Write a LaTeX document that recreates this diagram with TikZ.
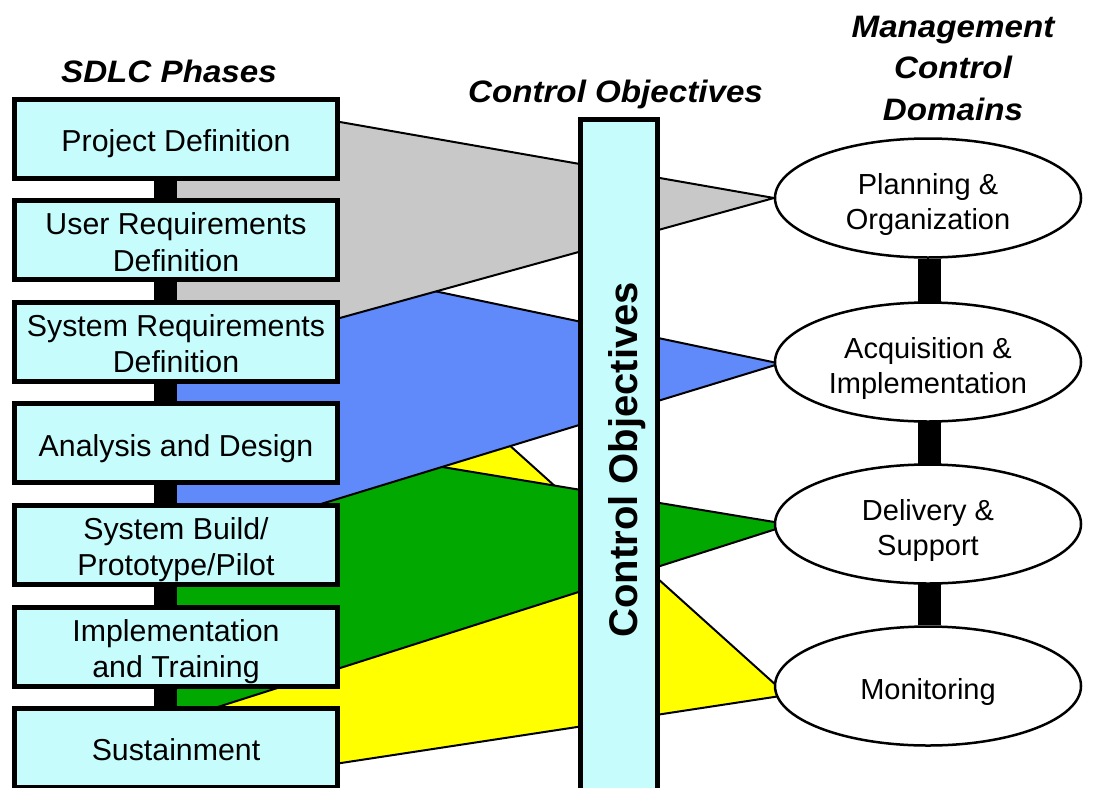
\documentclass[tikz,border=0pt]{standalone}
\usepackage{fontspec}
\setmainfont{Liberation Sans}
\usetikzlibrary{shapes.geometric}
\definecolor{boxcyan}{RGB}{198,252,252}
\definecolor{polygray}{RGB}{200,200,200}
\definecolor{polyblue}{RGB}{96,138,250}
\definecolor{polygreen}{RGB}{0,168,0}
\definecolor{polyyellow}{RGB}{255,255,0}
\pgfdeclarelayer{bg}
\pgfsetlayers{bg,main}
\newcommand{\boxlines}[2]{\raisebox{#1}[\height][\depth]{\begin{tabular}{@{}c@{}}#2\end{tabular}}}
\begin{document}
\begin{tikzpicture}[x=1pt,y=-1pt,
  phasebox/.style={draw, line width=5pt, fill=boxcyan, minimum width=323pt, minimum height=79pt, inner sep=0pt, font=\fontsize{30.3}{36.5}\selectfont},
  mcdnode/.style={ellipse, draw, line width=2.5pt, fill=white, minimum width=306pt, minimum height=119pt, inner sep=0pt, font=\fontsize{29}{35}\selectfont},
  titletext/.style={anchor=base, inner sep=0pt, font=\fontsize{31}{40}\bfseries\itshape\selectfont},
  cobarbox/.style={draw, line width=5pt, fill=boxcyan, rotate=90, minimum width=680pt, minimum height=77pt, inner sep=0pt, font=\fontsize{40}{48}\bfseries\selectfont, text height=36pt, text depth=0pt},
  thickbar/.style={line width=23pt},
  rimline/.style={line width=2pt, line join=round},
]
\useasboundingbox (0,0) rectangle (1107,787);

% SDLC phases
\node[phasebox] (p1) at (176,138.5) {\boxlines{-5.5pt}{Project Definition}};
\node[phasebox] (p2) at (176,240.1) {\boxlines{-5.5pt}{User Requirements\\Definition}};
\node[phasebox] (p3) at (176,341.7) {\boxlines{-5.5pt}{System Requirements\\Definition}};
\node[phasebox] (p4) at (176,443.3) {\boxlines{-5.5pt}{Analysis and Design}};
\node[phasebox] (p5) at (176,544.9) {\boxlines{-5.5pt}{System Build/\\Prototype/Pilot}};
\node[phasebox] (p6) at (176,646.5) {\boxlines{-5.5pt}{Implementation\\and Training}};
\node[phasebox] (p7) at (176,748.1) {\boxlines{-5.5pt}{Sustainment}};

% control objectives bar
\node[cobarbox] (co) at (619,459.75) {Control Objectives};

% domains
\node[mcdnode] (d1) at (928,198) {\boxlines{-6.5pt}{Planning \&\\Organization}};
\node[mcdnode] (d2) at (928,362) {\boxlines{-6.5pt}{Acquisition \&\\Implementation}};
\node[mcdnode] (d3) at (928,524) {\boxlines{-6.5pt}{Delivery \&\\Support}};
\node[mcdnode] (d4) at (928,686) {\boxlines{-6.5pt}{Monitoring}};

% headings
\node[titletext] (h1) at (169,82.5) {\scalebox{1.07}[1]{SDLC Phases}};
\node[titletext] (h2) at (615.5,102) {\scalebox{1.07}[1]{Control Objectives}};
\node[titletext] (h3) at (953,37) {\scalebox{1.07}[1]{Management}};
\node[titletext] (h4) at (953,78.5) {\scalebox{1.07}[1]{Control}};
\node[titletext] (h5) at (953,120) {\scalebox{1.07}[1]{Domains}};

\begin{pgfonlayer}{bg}
  \draw[thickbar] ([xshift=-10.5pt]p1.south) -- ([xshift=-10.5pt]p7.north);
  \draw[thickbar] ([xshift=1.5pt]d1.south) -- ([xshift=1.5pt]d4.north);
  % yellow
  \fill[polyyellow] (177,146) -- (787,695) -- (177,788) -- cycle;
  \draw[rimline] (177,146) -- (787,695) -- (177,788);
  % green
  \fill[polygreen] (177,423) -- (790,524.6) -- (177,720) -- cycle;
  \draw[rimline] (177,423) -- (790,524.6) -- (177,720);
  % blue
  \fill[polyblue] (177,237) -- (780,363.6) -- (177,548) -- cycle;
  \draw[rimline] (177,237) -- (780,363.6) -- (177,548);
  % gray
  \fill[polygray] (177,110) -- (220,101) -- (774,198) -- (177,363) -- cycle;
  \draw[rimline] (220,101) -- (774,198) -- (177,363);
\end{pgfonlayer}
\end{tikzpicture}
\end{document}
